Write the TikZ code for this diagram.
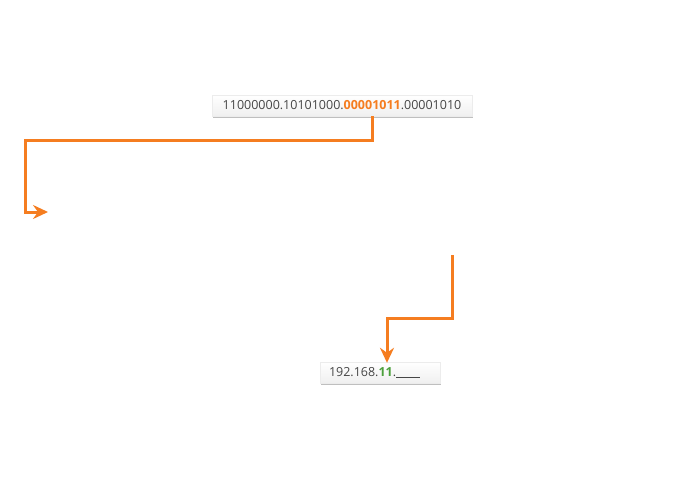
\documentclass[tikz,border=0pt]{standalone}
\usepackage{fontspec}
\setmainfont{Open Sans}
\usetikzlibrary{positioning}
\usetikzlibrary{arrows.meta}
\usetikzlibrary{shadows}
\definecolor{ipor}{RGB}{245,125,32}
\definecolor{ipgr}{RGB}{76,160,60}
\definecolor{iptx}{RGB}{70,70,70}
\tikzset{
    ipbox/.style = {rectangle, draw=gray!15, top color=white, bottom color=gray!12, minimum height=21pt, inner xsep=9pt, inner ysep=0pt, text=iptx, font=\fontsize{12.5}{14}\selectfont, drop shadow={shadow xshift=0.5pt, shadow yshift=-2pt, opacity=0.5}},
    edgeo/.style = {-{Stealth[length=15pt,width=14pt,inset=5pt]}, line width=3pt, ipor}, % orange connector
}
\begin{document}
\begin{tikzpicture}[x=1pt, y=-1pt]
  \useasboundingbox (0,0) rectangle (680,490);

  \node[ipbox, minimum width=260pt] (bin) at (342,105.5) {11000000.10101000.\textcolor{ipor}{\bfseries 00001011}.00001010};
  \node[ipbox, text width=102pt, align=left] (dec) at (380,372.5) {192.168.\textcolor{ipgr}{\bfseries 11}.\underline{\hspace{24pt}}};

  \coordinate (dst) at (48,212);
  \coordinate (src) at (452,255);

  \draw[edgeo] ([xshift=30pt]bin.south) -- ++(0,24) -| (25,212) -- (dst);
  \draw[edgeo] (src) |- (387,318) -- ([xshift=7pt,yshift=-1pt]dec.north);

\end{tikzpicture}
\end{document}
